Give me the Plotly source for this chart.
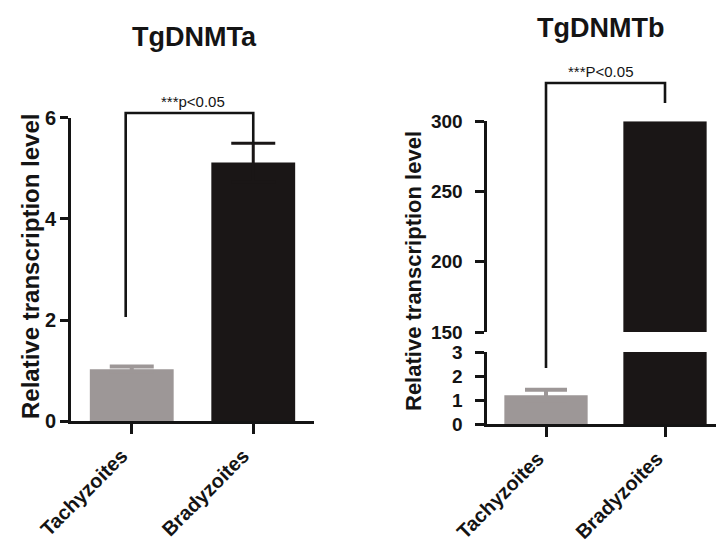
import plotly.graph_objects as go

# ---------------- data ----------------
categories = ["Tachyzoites", "Bradyzoites"]
a_values = [1.03, 5.11]
a_errors = [0.05, 0.38]
b_values = [1.20, 300]
b_errors = [0.23, 0]
a_yticks = [0, 2, 4, 6]
b_lower_ticks = [0, 1, 2, 3]
b_upper_ticks = [150, 200, 250, 300]
a_bracket_x = [-0.05, -0.05, 1.0, 1.0]
a_bracket_y = [2.06, 6.09, 6.09, 5.49]
b_bracket_x = [0.0, 0.0, 1.0, 1.0]
b_bracket_lower_y = 2.33
b_bracket_top_y = 327.3
b_bracket_right_y = 313
a_label = "***p<0.05"
b_label = "***P<0.05"
titles = ["TgDNMTa", "TgDNMTb"]
ytitle = "Relative transcription level"
bar_colors = ["#9d9797", "#1a1616"]

x_pos = list(range(len(categories)))

# ---------------- layout helpers ----------------
W, H = 724, 547
def fx(p):
    return p / W
def fy(p):
    return 1 - p / H

FONT = "Arial, Liberation Sans, sans-serif"
INK = "#141414"

fig = go.Figure()

# left panel bars
for i, cat in enumerate(categories):
    fig.add_trace(go.Bar(
        x=[x_pos[i]], y=[a_values[i]], xaxis="x", yaxis="y", name=cat,
        width=0.69, marker=dict(color=bar_colors[i], line=dict(width=0)),
        error_y=dict(type="data", array=[a_errors[i]], visible=True,
                     color=bar_colors[i], thickness=4 if i == 0 else 3, width=22),
        showlegend=False))

# right panel bars (broken axis: lower y2, upper y3)
for yax in ["y2", "y3"]:
    for i, cat in enumerate(categories):
        fig.add_trace(go.Bar(
            x=[x_pos[i]], y=[b_values[i]], xaxis="x2", yaxis=yax, name=cat,
            width=0.70, marker=dict(color=bar_colors[i], line=dict(width=0)),
            error_y=dict(type="data", array=[b_errors[i]], visible=b_errors[i] > 0,
                         color=bar_colors[i], thickness=4, width=21),
            showlegend=False))

# ---------------- axis geometry ----------------
a_x_dom = [fx(63), fx(306)]
a_y_dom = [fy(413.3), fy(109.5)]
b_x_dom = [fx(478.5), fx(716.5)]
b_low_dom = [fy(416), fy(344)]
b_up_dom = [fy(324), fy(113.3)]

# tall invisible axes for significance brackets (same scales)
a_ann_dom = [a_y_dom[0], fy(30)]
a_scale = (a_yticks[-1] - a_yticks[0]) / (a_y_dom[1] - a_y_dom[0])
a_ann_range = [0, (a_ann_dom[1] - a_ann_dom[0]) * a_scale]

b_ann_dom = [b_low_dom[1], fy(30)]
b_scale = (b_upper_ticks[-1] - b_upper_ticks[0]) / (b_up_dom[1] - b_up_dom[0])
b_ann_range = [b_upper_ticks[0] - (b_up_dom[0] - b_ann_dom[0]) * b_scale,
               b_upper_ticks[0] + (b_ann_dom[1] - b_up_dom[0]) * b_scale]

# brackets
fig.add_trace(go.Scatter(
    x=a_bracket_x, y=a_bracket_y, xaxis="x", yaxis="y4", mode="lines",
    line=dict(color=INK, width=2.6), hoverinfo="skip", showlegend=False))
fig.add_trace(go.Scatter(
    x=b_bracket_x, y=[b_ann_range[0], b_bracket_top_y, b_bracket_top_y, b_bracket_right_y],
    xaxis="x2", yaxis="y5", mode="lines",
    line=dict(color=INK, width=2.6), hoverinfo="skip", showlegend=False))
fig.add_trace(go.Scatter(
    x=b_bracket_x[:2], y=[b_bracket_lower_y, b_lower_ticks[-1]], xaxis="x2", yaxis="y2",
    mode="lines", line=dict(color=INK, width=2.6), hoverinfo="skip", showlegend=False))

tick_font = dict(family=FONT, size=20, color=INK, weight="bold")
xtick_font = dict(family=FONT, size=20, color=INK, weight="bold")
axis_common = dict(showgrid=False, zeroline=False, showline=True, linecolor=INK,
                   linewidth=3, ticks="outside", tickwidth=3, tickcolor=INK,
                   automargin=False)

fig.update_layout(
    width=W, height=H, autosize=False,
    margin=dict(l=0, r=0, t=0, b=0, autoexpand=False),
    paper_bgcolor="white", plot_bgcolor="rgba(0,0,0,0)",
    barmode="overlay",
    xaxis=dict(domain=a_x_dom, anchor="y", range=[-0.5, 1.5],
               tickvals=x_pos, ticktext=categories, ticklen=10,
               ticklabelshift=-10, ticklabelstandoff=2,
               tickangle=-45, tickfont=xtick_font, **axis_common),
    yaxis=dict(domain=a_y_dom, anchor="x", range=[0, 6], tickvals=a_yticks, ticklen=8,
               tickfont=tick_font, **axis_common),
    xaxis2=dict(domain=b_x_dom, anchor="y2", range=[-0.5, 1.5],
                tickvals=x_pos, ticktext=categories, ticklen=10,
                ticklabelshift=-8, ticklabelstandoff=2,
                tickangle=-45, tickfont=xtick_font, **axis_common),
    yaxis2=dict(domain=b_low_dom, anchor="x2", range=[0, 3], tickvals=b_lower_ticks, ticklen=9,
                ticklabelstandoff=8, tickfont=dict(tick_font, size=19), **axis_common),
    yaxis3=dict(domain=b_up_dom, anchor="x2", range=[150, 300], tickvals=b_upper_ticks, ticklen=9,
                ticklabelstandoff=8, tickfont=dict(tick_font, size=19), **axis_common),
    yaxis4=dict(domain=a_ann_dom, anchor="x", range=a_ann_range, visible=False),
    yaxis5=dict(domain=b_ann_dom, anchor="x2", range=b_ann_range, visible=False),
)

annotations = [
    dict(text=a_label, x=0.5, y=a_bracket_y[1], xref="x", yref="y4", showarrow=False,
         xanchor="center", yanchor="bottom", yshift=1,
         font=dict(family=FONT, size=15, color=INK)),
    dict(text=b_label, x=0.46, y=b_bracket_top_y, xref="x2", yref="y5", showarrow=False,
         xanchor="center", yanchor="bottom", yshift=1,
         font=dict(family=FONT, size=15, color=INK)),
    dict(text=titles[0], x=fx(186), y=fy(29), xref="paper", yref="paper", showarrow=False,
         xanchor="center", yanchor="middle",
         font=dict(family=FONT, size=27, color=INK, weight="bold")),
    dict(text=titles[1], x=fx(592), y=fy(20), xref="paper", yref="paper", showarrow=False,
         xanchor="center", yanchor="middle",
         font=dict(family=FONT, size=27, color=INK, weight="bold")),
    dict(text=ytitle, x=fx(22), y=fy(259), xref="paper", yref="paper", showarrow=False,
         textangle=-90, xanchor="center", yanchor="middle",
         font=dict(family=FONT, size=24, color=INK, weight="bold")),
    dict(text=ytitle, x=fx(406), y=fy(263), xref="paper", yref="paper", showarrow=False,
         textangle=-90, xanchor="center", yanchor="middle",
         font=dict(family=FONT, size=22, color=INK, weight="bold")),
]
fig.update_layout(annotations=annotations)

fig.write_html("out.html")
